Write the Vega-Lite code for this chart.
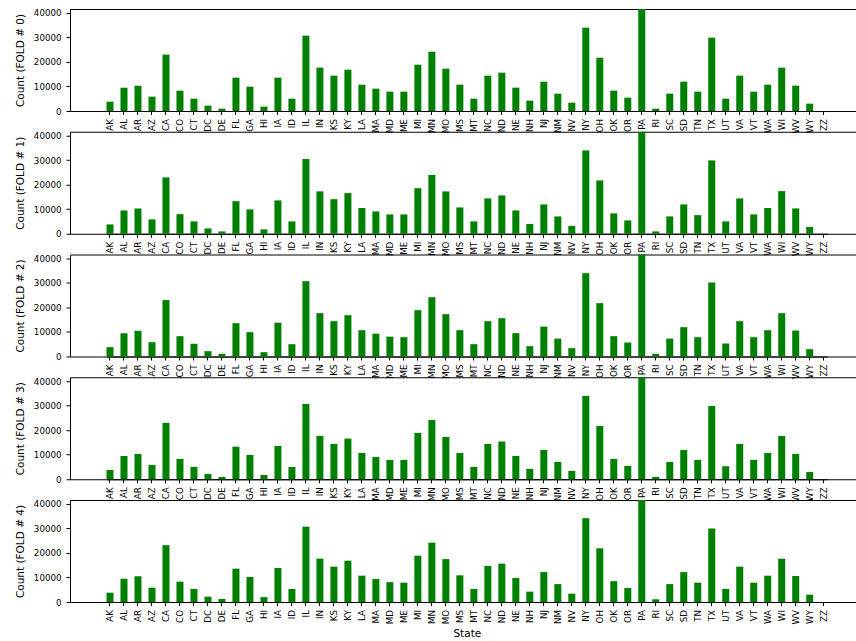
{
  "$schema": "https://vega.github.io/schema/vega-lite/v6.json",
  "padding": {"left": 14, "top": 8, "right": 0, "bottom": 0},
  "background": "white",
  "datasets": {
    "fold0": [
      {"state": "AK", "count": 3800}, {"state": "AL", "count": 9500}, {"state": "AR", "count": 10300}, {"state": "AZ", "count": 5850},
      {"state": "CA", "count": 23000}, {"state": "CO", "count": 8300}, {"state": "CT", "count": 5030}, {"state": "DC", "count": 2180},
      {"state": "DE", "count": 950}, {"state": "FL", "count": 13600}, {"state": "GA", "count": 9930}, {"state": "HI", "count": 1770},
      {"state": "IA", "count": 13600}, {"state": "ID", "count": 5030}, {"state": "IL", "count": 30740}, {"state": "IN", "count": 17700},
      {"state": "KS", "count": 14420}, {"state": "KY", "count": 16860}, {"state": "LA", "count": 10740}, {"state": "MA", "count": 9110},
      {"state": "MD", "count": 7890}, {"state": "ME", "count": 7890}, {"state": "MI", "count": 18900}, {"state": "MN", "count": 24200},
      {"state": "MO", "count": 17270}, {"state": "MS", "count": 10740}, {"state": "MT", "count": 5030}, {"state": "NC", "count": 14420},
      {"state": "ND", "count": 15640}, {"state": "NE", "count": 9520}, {"state": "NH", "count": 4220}, {"state": "NJ", "count": 11970},
      {"state": "NM", "count": 7070}, {"state": "NV", "count": 3400}, {"state": "NY", "count": 34000}, {"state": "OH", "count": 21760},
      {"state": "OK", "count": 8300}, {"state": "OR", "count": 5440}, {"state": "PA", "count": 41620}, {"state": "RI", "count": 950},
      {"state": "SC", "count": 7070}, {"state": "SD", "count": 11970}, {"state": "TN", "count": 7890}, {"state": "TX", "count": 29920},
      {"state": "UT", "count": 5030}, {"state": "VA", "count": 14420}, {"state": "VT", "count": 7890}, {"state": "WA", "count": 10740},
      {"state": "WI", "count": 17680}, {"state": "WV", "count": 10340}, {"state": "WY", "count": 2990}, {"state": "ZZ", "count": 5}
    ],
    "fold1": [
      {"state": "AK", "count": 3800}, {"state": "AL", "count": 9500}, {"state": "AR", "count": 10300}, {"state": "AZ", "count": 5850},
      {"state": "CA", "count": 23000}, {"state": "CO", "count": 8000}, {"state": "CT", "count": 5030}, {"state": "DC", "count": 2180},
      {"state": "DE", "count": 950}, {"state": "FL", "count": 13300}, {"state": "GA", "count": 9930}, {"state": "HI", "count": 1770},
      {"state": "IA", "count": 13600}, {"state": "ID", "count": 5030}, {"state": "IL", "count": 30500}, {"state": "IN", "count": 17300},
      {"state": "KS", "count": 14100}, {"state": "KY", "count": 16600}, {"state": "LA", "count": 10500}, {"state": "MA", "count": 9110},
      {"state": "MD", "count": 7890}, {"state": "ME", "count": 7890}, {"state": "MI", "count": 18600}, {"state": "MN", "count": 24000},
      {"state": "MO", "count": 17270}, {"state": "MS", "count": 10740}, {"state": "MT", "count": 5030}, {"state": "NC", "count": 14420},
      {"state": "ND", "count": 15640}, {"state": "NE", "count": 9520}, {"state": "NH", "count": 4000}, {"state": "NJ", "count": 11970},
      {"state": "NM", "count": 7070}, {"state": "NV", "count": 3200}, {"state": "NY", "count": 34000}, {"state": "OH", "count": 21760},
      {"state": "OK", "count": 8300}, {"state": "OR", "count": 5440}, {"state": "PA", "count": 41620}, {"state": "RI", "count": 950},
      {"state": "SC", "count": 7070}, {"state": "SD", "count": 11970}, {"state": "TN", "count": 7600}, {"state": "TX", "count": 29920},
      {"state": "UT", "count": 5030}, {"state": "VA", "count": 14420}, {"state": "VT", "count": 7890}, {"state": "WA", "count": 10500},
      {"state": "WI", "count": 17400}, {"state": "WV", "count": 10340}, {"state": "WY", "count": 2800}, {"state": "ZZ", "count": 5}
    ],
    "fold2": [
      {"state": "AK", "count": 3800}, {"state": "AL", "count": 9500}, {"state": "AR", "count": 10500}, {"state": "AZ", "count": 5850},
      {"state": "CA", "count": 23000}, {"state": "CO", "count": 8300}, {"state": "CT", "count": 5200}, {"state": "DC", "count": 2180},
      {"state": "DE", "count": 1100}, {"state": "FL", "count": 13600}, {"state": "GA", "count": 9930}, {"state": "HI", "count": 1770},
      {"state": "IA", "count": 13800}, {"state": "ID", "count": 5030}, {"state": "IL", "count": 30740}, {"state": "IN", "count": 17700},
      {"state": "KS", "count": 14420}, {"state": "KY", "count": 16860}, {"state": "LA", "count": 10740}, {"state": "MA", "count": 9300},
      {"state": "MD", "count": 8100}, {"state": "ME", "count": 7890}, {"state": "MI", "count": 18900}, {"state": "MN", "count": 24200},
      {"state": "MO", "count": 17270}, {"state": "MS", "count": 10740}, {"state": "MT", "count": 5030}, {"state": "NC", "count": 14420},
      {"state": "ND", "count": 15640}, {"state": "NE", "count": 9520}, {"state": "NH", "count": 4220}, {"state": "NJ", "count": 12200},
      {"state": "NM", "count": 7300}, {"state": "NV", "count": 3400}, {"state": "NY", "count": 34000}, {"state": "OH", "count": 21760},
      {"state": "OK", "count": 8300}, {"state": "OR", "count": 5700}, {"state": "PA", "count": 41620}, {"state": "RI", "count": 1100},
      {"state": "SC", "count": 7300}, {"state": "SD", "count": 11970}, {"state": "TN", "count": 7890}, {"state": "TX", "count": 30200},
      {"state": "UT", "count": 5300}, {"state": "VA", "count": 14420}, {"state": "VT", "count": 7890}, {"state": "WA", "count": 10740},
      {"state": "WI", "count": 17680}, {"state": "WV", "count": 10600}, {"state": "WY", "count": 2990}, {"state": "ZZ", "count": 5}
    ],
    "fold3": [
      {"state": "AK", "count": 3800}, {"state": "AL", "count": 9500}, {"state": "AR", "count": 10300}, {"state": "AZ", "count": 5850},
      {"state": "CA", "count": 23000}, {"state": "CO", "count": 8300}, {"state": "CT", "count": 5030}, {"state": "DC", "count": 2180},
      {"state": "DE", "count": 950}, {"state": "FL", "count": 13300}, {"state": "GA", "count": 9930}, {"state": "HI", "count": 1770},
      {"state": "IA", "count": 13600}, {"state": "ID", "count": 5030}, {"state": "IL", "count": 30740}, {"state": "IN", "count": 17700},
      {"state": "KS", "count": 14420}, {"state": "KY", "count": 16600}, {"state": "LA", "count": 10740}, {"state": "MA", "count": 9110},
      {"state": "MD", "count": 7890}, {"state": "ME", "count": 7890}, {"state": "MI", "count": 18900}, {"state": "MN", "count": 24200},
      {"state": "MO", "count": 17270}, {"state": "MS", "count": 10740}, {"state": "MT", "count": 5030}, {"state": "NC", "count": 14420},
      {"state": "ND", "count": 15400}, {"state": "NE", "count": 9520}, {"state": "NH", "count": 4220}, {"state": "NJ", "count": 11970},
      {"state": "NM", "count": 7070}, {"state": "NV", "count": 3400}, {"state": "NY", "count": 34000}, {"state": "OH", "count": 21760},
      {"state": "OK", "count": 8300}, {"state": "OR", "count": 5440}, {"state": "PA", "count": 41620}, {"state": "RI", "count": 950},
      {"state": "SC", "count": 7070}, {"state": "SD", "count": 11970}, {"state": "TN", "count": 7890}, {"state": "TX", "count": 29920},
      {"state": "UT", "count": 5300}, {"state": "VA", "count": 14420}, {"state": "VT", "count": 7890}, {"state": "WA", "count": 10740},
      {"state": "WI", "count": 17680}, {"state": "WV", "count": 10340}, {"state": "WY", "count": 2990}, {"state": "ZZ", "count": 5}
    ],
    "fold4": [
      {"state": "AK", "count": 3800}, {"state": "AL", "count": 9500}, {"state": "AR", "count": 10500}, {"state": "AZ", "count": 5850},
      {"state": "CA", "count": 23200}, {"state": "CO", "count": 8300}, {"state": "CT", "count": 5300}, {"state": "DC", "count": 2180},
      {"state": "DE", "count": 1250}, {"state": "FL", "count": 13600}, {"state": "GA", "count": 10200}, {"state": "HI", "count": 2000},
      {"state": "IA", "count": 13900}, {"state": "ID", "count": 5300}, {"state": "IL", "count": 30740}, {"state": "IN", "count": 17700},
      {"state": "KS", "count": 14420}, {"state": "KY", "count": 16860}, {"state": "LA", "count": 10740}, {"state": "MA", "count": 9400},
      {"state": "MD", "count": 8100}, {"state": "ME", "count": 7890}, {"state": "MI", "count": 18900}, {"state": "MN", "count": 24200},
      {"state": "MO", "count": 17500}, {"state": "MS", "count": 10900}, {"state": "MT", "count": 5300}, {"state": "NC", "count": 14700},
      {"state": "ND", "count": 15640}, {"state": "NE", "count": 9800}, {"state": "NH", "count": 4220}, {"state": "NJ", "count": 12200},
      {"state": "NM", "count": 7300}, {"state": "NV", "count": 3400}, {"state": "NY", "count": 34200}, {"state": "OH", "count": 21900},
      {"state": "OK", "count": 8500}, {"state": "OR", "count": 5700}, {"state": "PA", "count": 41620}, {"state": "RI", "count": 1100},
      {"state": "SC", "count": 7300}, {"state": "SD", "count": 12200}, {"state": "TN", "count": 7890}, {"state": "TX", "count": 30000},
      {"state": "UT", "count": 5300}, {"state": "VA", "count": 14420}, {"state": "VT", "count": 7890}, {"state": "WA", "count": 10740},
      {"state": "WI", "count": 17680}, {"state": "WV", "count": 10600}, {"state": "WY", "count": 2990}, {"state": "ZZ", "count": 5}
    ]
  },
  "vconcat": [
    {
      "data": {"name": "fold0"}, "width": 786, "height": 102,
      "mark": {"type": "bar", "color": "#008000"},
      "encoding": {
        "x": {"field": "state", "type": "nominal", "sort": null, "scale": {"range": [36.5, 757.2], "paddingInner": 0.5, "paddingOuter": 0}, "axis": {"title": null, "labelAngle": -90, "labelPadding": 4, "labelOverlap": false}},
        "y": {"field": "count", "type": "quantitative", "scale": {"domain": [0, 41620], "nice": false}, "axis": {"title": "Count (FOLD # 0)", "values": [0, 10000, 20000, 30000, 40000], "format": "d", "labelPadding": 5, "tickSize": 4, "titlePadding": 8}}
      }
    },
    {
      "data": {"name": "fold1"}, "width": 786, "height": 102,
      "mark": {"type": "bar", "color": "#008000"},
      "encoding": {
        "x": {"field": "state", "type": "nominal", "sort": null, "scale": {"range": [36.5, 757.2], "paddingInner": 0.5, "paddingOuter": 0}, "axis": {"title": null, "labelAngle": -90, "labelPadding": 4, "labelOverlap": false}},
        "y": {"field": "count", "type": "quantitative", "scale": {"domain": [0, 41620], "nice": false}, "axis": {"title": "Count (FOLD # 1)", "values": [0, 10000, 20000, 30000, 40000], "format": "d", "labelPadding": 5, "tickSize": 4, "titlePadding": 8}}
      }
    },
    {
      "data": {"name": "fold2"}, "width": 786, "height": 102,
      "mark": {"type": "bar", "color": "#008000"},
      "encoding": {
        "x": {"field": "state", "type": "nominal", "sort": null, "scale": {"range": [36.5, 757.2], "paddingInner": 0.5, "paddingOuter": 0}, "axis": {"title": null, "labelAngle": -90, "labelPadding": 4, "labelOverlap": false}},
        "y": {"field": "count", "type": "quantitative", "scale": {"domain": [0, 41620], "nice": false}, "axis": {"title": "Count (FOLD # 2)", "values": [0, 10000, 20000, 30000, 40000], "format": "d", "labelPadding": 5, "tickSize": 4, "titlePadding": 8}}
      }
    },
    {
      "data": {"name": "fold3"}, "width": 786, "height": 102,
      "mark": {"type": "bar", "color": "#008000"},
      "encoding": {
        "x": {"field": "state", "type": "nominal", "sort": null, "scale": {"range": [36.5, 757.2], "paddingInner": 0.5, "paddingOuter": 0}, "axis": {"title": null, "labelAngle": -90, "labelPadding": 4, "labelOverlap": false}},
        "y": {"field": "count", "type": "quantitative", "scale": {"domain": [0, 41620], "nice": false}, "axis": {"title": "Count (FOLD # 3)", "values": [0, 10000, 20000, 30000, 40000], "format": "d", "labelPadding": 5, "tickSize": 4, "titlePadding": 8}}
      }
    },
    {
      "data": {"name": "fold4"}, "width": 786, "height": 102,
      "mark": {"type": "bar", "color": "#008000"},
      "encoding": {
        "x": {"field": "state", "type": "nominal", "sort": null, "scale": {"range": [36.5, 757.2], "paddingInner": 0.5, "paddingOuter": 0}, "axis": {"title": "State", "labelAngle": -90, "labelPadding": 4, "labelOverlap": false, "titlePadding": 4}},
        "y": {"field": "count", "type": "quantitative", "scale": {"domain": [0, 41620], "nice": false}, "axis": {"title": "Count (FOLD # 4)", "values": [0, 10000, 20000, 30000, 40000], "format": "d", "labelPadding": 5, "tickSize": 4, "titlePadding": 8}}
      }
    }
  ],
  "spacing": 20.75,
  "bounds": "flush",
  "config": {
    "view": {"stroke": "black", "strokeWidth": 1},
    "axis": {
      "domainColor": "black", "tickColor": "black", "labelColor": "black", "titleColor": "black",
      "labelFont": "DejaVu Sans", "titleFont": "DejaVu Sans", "labelFontSize": 8.7, "titleFontSize": 10.5,
      "titleFontWeight": "normal", "grid": false, "tickSize": 3.5, "domainWidth": 1, "tickWidth": 1
    }
  }
}
